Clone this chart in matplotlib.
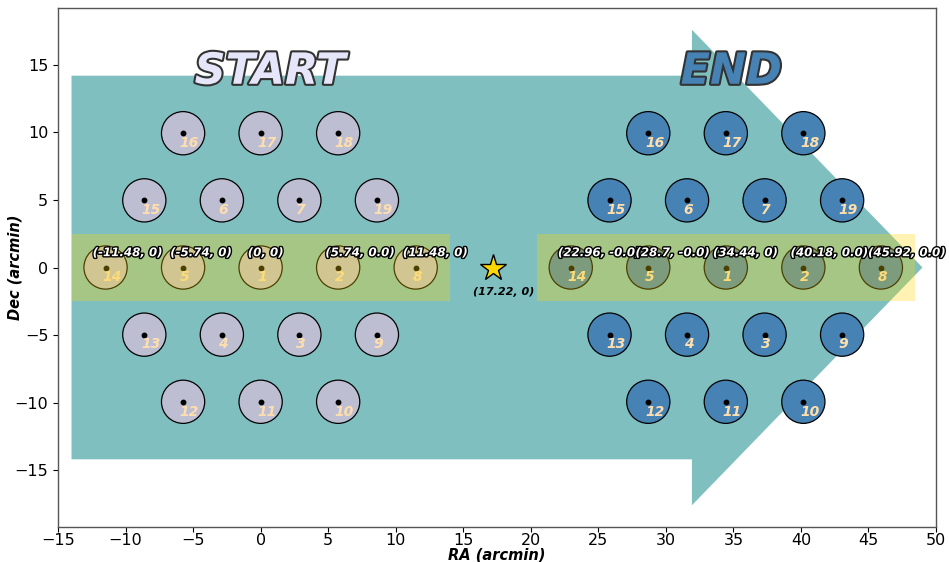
import matplotlib
matplotlib.use("Agg")
import matplotlib.pyplot as plt
import matplotlib.patches as mpatches
import matplotlib.patheffects as pe

# ---- data ----
beam_ids = list(range(1, 20))
beam_ra = [0.0, 5.74, 2.87, -2.87, -5.74, -2.87, 2.87, 11.48, 8.61, 5.74,
           0.0, -5.74, -8.61, -11.48, -8.61, -5.74, 0.0, 5.74, 8.61]
beam_dec = [0.0, 0.0, -4.97, -4.97, 0.0, 4.97, 4.97, 0.0, -4.97, -9.94,
            -9.94, -9.94, -4.97, 0.0, 4.97, 9.94, 9.94, 9.94, 4.97]
end_shift = 34.44
star_pos = (17.22, 0.0)
star_label = "(17.22, 0)"
row_beams = [14, 5, 1, 2, 8]
start_row_labels = ["(-11.48, 0)", "(-5.74, 0)", "(0, 0)", "(5.74, 0.0)", "(11.48, 0)"]
end_row_labels = ["(22.96, -0.0)", "(28.7, -0.0)", "(34.44, 0)", "(40.18, 0.0)", "(45.92, 0.0)"]
xticks = [-15, -10, -5, 0, 5, 10, 15, 20, 25, 30, 35, 40, 45, 50]
yticks = [-15, -10, -5, 0, 5, 10, 15]

beam_radius = 1.6

fig = plt.figure(figsize=(9.49, 5.62), dpi=100)
ax = fig.add_axes([58 / 949, 1 - 527 / 562, 878 / 949, 519 / 562])
ax.set_xlim(-15, 50)
ax.set_ylim(-19.21, 19.21)

# big arrow
arrow = mpatches.FancyArrow(-14, 0, 63, 0, width=28.4, head_width=35.2,
                            head_length=17.07, length_includes_head=True,
                            color='teal', alpha=0.5, lw=0, zorder=1)
ax.add_patch(arrow)

groups = [(0.0, '#bebed2', start_row_labels), (end_shift, 'steelblue', end_row_labels)]
for shift, fc, labels in groups:
    for bid, ra, dec in zip(beam_ids, beam_ra, beam_dec):
        x = ra + shift
        ax.add_patch(mpatches.Circle((x, dec), beam_radius, facecolor=fc,
                                     edgecolor='black', lw=0.9, zorder=2))
        ax.plot(x, dec, 'o', color='black', ms=3.2, zorder=2.1)
        ax.text(x - 0.25, dec - 0.72, str(bid), ha='left', va='center',
                fontsize=10, fontweight='bold', fontstyle='italic',
                color='navajowhite', zorder=2.2)
    # yellow band
    ax.add_patch(mpatches.Rectangle((shift - 14, -2.5), 28, 5, facecolor='gold',
                                    alpha=0.3, lw=0, zorder=3))
    for bid, lab in zip(row_beams, labels):
        i = beam_ids.index(bid)
        x = beam_ra[i] + shift
        ax.text(x - 0.95, beam_dec[i] + 1.1, lab, ha='left', va='center',
                fontsize=8.5, fontweight='bold', fontstyle='italic', color='white',
                zorder=5,
                path_effects=[pe.withStroke(linewidth=2, foreground='black')])

# star
ax.plot(star_pos[0], star_pos[1], marker='*', ms=20, markerfacecolor='gold',
        markeredgecolor='black', markeredgewidth=1, ls='none', zorder=5)
ax.text(star_pos[0] - 1.5, star_pos[1] - 1.8, star_label, ha='left', va='center',
        fontsize=8, fontweight='bold', fontstyle='italic', color='black', zorder=5)

# START / END
ax.text(0.7, 13.6, "START", ha='center', va='baseline', fontsize=31,
        fontweight='bold', fontstyle='italic', color='lavender', zorder=6,
        path_effects=[pe.withStroke(linewidth=3, foreground='#333333')])
ax.text(end_shift + 0.4, 13.6, "END", ha='center', va='baseline', fontsize=31,
        fontweight='bold', fontstyle='italic', color='steelblue', zorder=6,
        path_effects=[pe.withStroke(linewidth=3, foreground='#333333')])

ax.set_xticks(xticks)
ax.set_yticks(yticks)
ax.tick_params(labelsize=11.5)
ax.tick_params(axis='x', pad=0.5)
ax.set_xlabel("RA (arcmin)", fontsize=10.5, fontweight='bold', fontstyle='italic')
ax.set_ylabel("Dec (arcmin)", fontsize=10.5, fontweight='bold', fontstyle='italic')
ax.xaxis.set_label_coords(0.5, -0.040)
ax.yaxis.set_label_coords(-0.041, 0.5)
for s in ax.spines.values():
    s.set_color('#555555')
    s.set_linewidth(1.0)

fig.savefig("out.png", dpi=100)
